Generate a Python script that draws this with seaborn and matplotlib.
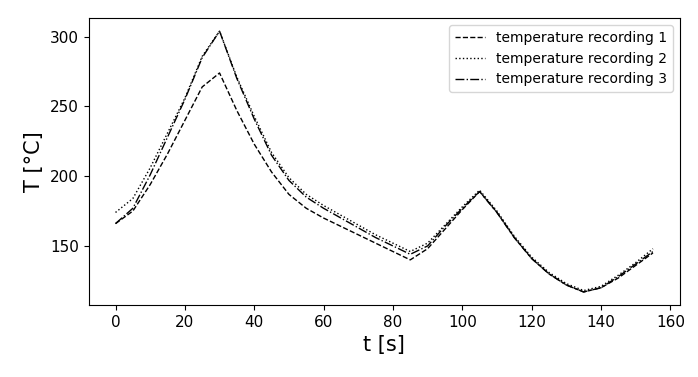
import pandas as pd
import matplotlib
matplotlib.use("Agg")
import matplotlib.pyplot as plt
import seaborn as sns

# Datos
t = [0, 5, 10, 15, 20, 25, 30, 35, 40, 45, 50, 55, 60, 65, 70, 75,
     80, 85, 90, 95, 100, 105, 110, 115, 120, 125, 130, 135, 140, 145, 150, 155]
rec1 = [166, 175, 194, 216, 240, 264, 274, 247, 223, 203, 187, 177, 170, 164, 158, 152,
        146, 140, 148, 162, 176, 189, 174, 156, 141, 130, 122, 117, 120, 127, 136, 145]
rec2 = [174, 184, 206, 231, 256, 286, 304, 271, 243, 217, 199, 187, 179, 172, 165, 158,
        152, 146, 152, 165, 178, 190, 175, 157, 142, 131, 123, 118, 121, 129, 138, 148]
rec3 = [166, 177, 201, 228, 255, 285, 304, 270, 241, 215, 197, 185, 177, 170, 163, 156,
        150, 144, 150, 164, 177, 189, 174, 156, 141, 130, 122, 117, 120, 128, 137, 146]
labels = ['temperature recording 1', 'temperature recording 2', 'temperature recording 3']
estilos = ['--', ':', '-.']
yticks = [150, 200, 250, 300]
xticks = [0, 20, 40, 60, 80, 100, 120, 140, 160]

df = pd.DataFrame({'t': t, labels[0]: rec1, labels[1]: rec2, labels[2]: rec3})

fig, ax = plt.subplots(figsize=(6.98, 3.77), dpi=100)
fig.subplots_adjust(left=0.127, right=0.974, top=0.952, bottom=0.191)

for lab, ls in zip(labels, estilos):
    sns.lineplot(data=df, x='t', y=lab, ax=ax, color='black', linestyle=ls,
                 linewidth=1.0, label=lab)

ax.set_xlabel('t [s]', fontsize=15)
ax.set_ylabel('T [°C]', fontsize=15)
ax.tick_params(labelsize=11)
ax.set_xticks(xticks)
ax.set_yticks(yticks)
ax.legend(loc='upper right', fontsize=10, handlelength=2.2)

fig.savefig('out.png', dpi=100)
